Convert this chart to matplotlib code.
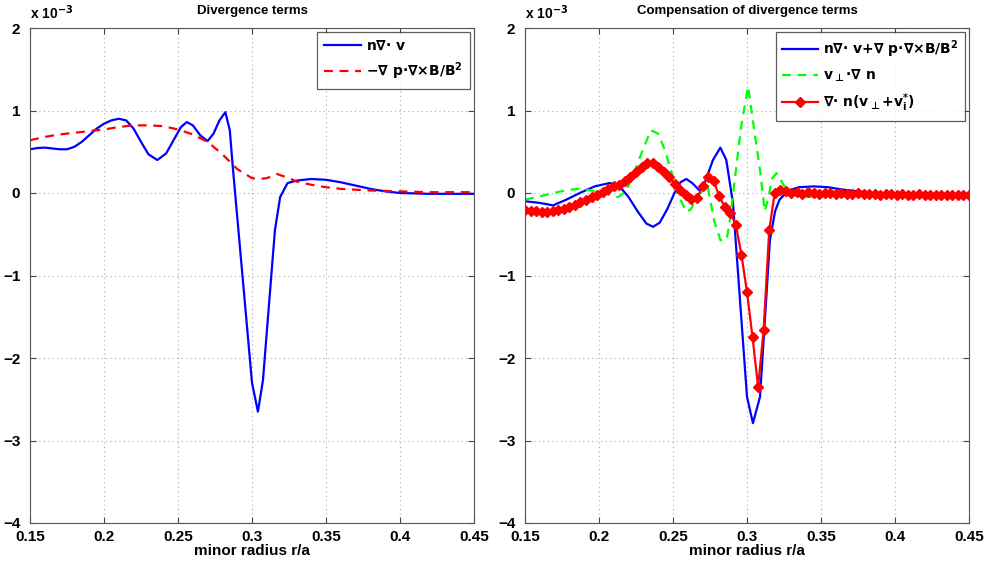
import numpy as np
import matplotlib
matplotlib.use('Agg')
import matplotlib.pyplot as plt

plt.rcParams['font.family'] = ['Liberation Sans', 'DejaVu Sans']
plt.rcParams['font.weight'] = 'bold'
plt.rcParams['mathtext.fontset'] = 'custom'
plt.rcParams['mathtext.rm'] = 'DejaVu Sans:bold'
plt.rcParams['mathtext.it'] = 'DejaVu Sans:bold'
plt.rcParams['mathtext.bf'] = 'DejaVu Sans:bold'
plt.rcParams['mathtext.sf'] = 'DejaVu Sans'
plt.rcParams['axes.unicode_minus'] = True

# 数值单位为 1e-3
# 左图: n∇·v
left_div_x = [0.150, 0.155, 0.160, 0.165, 0.170, 0.175, 0.180, 0.185, 0.190, 0.195,
              0.200, 0.205, 0.210, 0.215, 0.220, 0.225, 0.230, 0.236, 0.242, 0.247,
              0.252, 0.256, 0.260, 0.265, 0.270, 0.274, 0.278, 0.282, 0.285, 0.287,
              0.300, 0.304, 0.3074, 0.3155, 0.319, 0.324, 0.330, 0.340, 0.350, 0.360,
              0.370, 0.380, 0.390, 0.400, 0.420, 0.450]
left_div_y = [0.53, 0.545, 0.55, 0.54, 0.53, 0.53, 0.56, 0.62, 0.70, 0.78,
              0.84, 0.88, 0.90, 0.88, 0.78, 0.62, 0.47, 0.40, 0.48, 0.64,
              0.80, 0.86, 0.82, 0.70, 0.63, 0.72, 0.88, 0.98, 0.76, 0.32,
              -2.30, -2.65, -2.27, -0.45, -0.05, 0.12, 0.15, 0.17, 0.16, 0.13,
              0.09, 0.05, 0.02, 0.00, -0.01, -0.01]

# 左图: -∇p·∇×B/B^2
left_curl_x = [0.15, 0.16, 0.17, 0.18, 0.19, 0.20, 0.21, 0.22, 0.23, 0.24,
               0.25, 0.26, 0.27, 0.28, 0.29, 0.30, 0.305, 0.31, 0.317, 0.325,
               0.33, 0.34, 0.35, 0.36, 0.38, 0.40, 0.42, 0.45]
left_curl_y = [0.64, 0.68, 0.71, 0.73, 0.75, 0.77, 0.80, 0.82, 0.82, 0.81,
               0.77, 0.71, 0.62, 0.47, 0.29, 0.18, 0.17, 0.18, 0.23, 0.18,
               0.14, 0.10, 0.07, 0.05, 0.03, 0.02, 0.01, 0.01]

# 右图: n∇·v + ∇p·∇×B/B^2
right_sum_x = [0.150, 0.160, 0.169, 0.178, 0.187, 0.197, 0.207, 0.213, 0.220, 0.226,
               0.232, 0.2365, 0.241, 0.246, 0.251, 0.255, 0.259, 0.263, 0.268, 0.272,
               0.277, 0.282, 0.286, 0.2905, 0.300, 0.304, 0.3088, 0.3155, 0.319, 0.322,
               0.328, 0.335, 0.345, 0.355, 0.365, 0.375, 0.385, 0.400, 0.450]
right_sum_y = [-0.10, -0.12, -0.15, -0.08, 0.00, 0.08, 0.12, 0.10, -0.05, -0.22,
               -0.37, -0.41, -0.36, -0.20, 0.00, 0.13, 0.17, 0.12, 0.03, 0.15,
               0.40, 0.55, 0.40, -0.12, -2.47, -2.79, -2.47, -0.57, -0.22, -0.08,
               0.03, 0.07, 0.08, 0.07, 0.04, 0.02, 0.00, -0.01, -0.01]

# 右图: v⊥·∇n
right_grad_x = [0.150, 0.160, 0.169, 0.180, 0.187, 0.195, 0.203, 0.210, 0.213, 0.218,
                0.222, 0.228, 0.235, 0.240, 0.2445, 0.249, 0.253, 0.259, 0.262, 0.267,
                0.2736, 0.278, 0.282, 0.286, 0.288, 0.292, 0.296, 0.3007, 0.305, 0.309,
                0.312, 0.3145, 0.317, 0.320, 0.324, 0.328, 0.335, 0.345, 0.360, 0.380,
                0.400, 0.450]
right_grad_y = [-0.08, -0.04, 0.00, 0.04, 0.05, 0.03, 0.00, -0.04, -0.05, 0.02,
                0.16, 0.45, 0.76, 0.72, 0.52, 0.25, 0.00, -0.23, -0.20, -0.02,
                0.06, -0.35, -0.57, -0.57, -0.40, 0.20, 0.80, 1.29, 0.75, 0.25,
                -0.22, -0.05, 0.18, 0.24, 0.12, 0.00, -0.04, -0.05, -0.04, -0.03,
                -0.02, -0.02]

# 右图: ∇·n(v⊥+v*i)，等间距采样点
right_total_y = [-0.21, -0.22, -0.22, -0.23, -0.23, -0.22, -0.21, -0.19, -0.17, -0.14,
                 -0.11, -0.08, -0.05, -0.02, 0.01, 0.05, 0.08, 0.10, 0.14, 0.19,
                 0.25, 0.31, 0.36, 0.36, 0.32, 0.26, 0.19, 0.11, 0.04, -0.03,
                 -0.07, -0.06, 0.08, 0.20, 0.15, -0.04, -0.17, -0.24, -0.39, -0.75,
                 -1.20, -1.75, -2.35, -1.66, -0.45, 0.00, 0.04, 0.02, 0.00, 0.01,
                 -0.01, 0.01, 0.00, -0.01, 0.00, 0.00, -0.01, 0.00, -0.01, -0.01,
                 0.00, -0.01, -0.01, -0.01, -0.02, -0.01, -0.01, -0.02, -0.01, -0.02,
                 -0.02, -0.01, -0.02, -0.02, -0.02, -0.02, -0.02, -0.02, -0.02, -0.02,
                 -0.02]
right_total_x = np.linspace(0.15, 0.45, len(right_total_y))

x_ticks = [0.15, 0.2, 0.25, 0.3, 0.35, 0.4, 0.45]
x_tick_labels = ['0.15', '0.2', '0.25', '0.3', '0.35', '0.4', '0.45']
y_ticks = [-4, -3, -2, -1, 0, 1, 2]

W, H = 987, 567
fig = plt.figure(figsize=(W / 100, H / 100), dpi=100)
ax1 = fig.add_axes([30 / W, 1 - 523 / H, 444 / W, 495 / H])
ax2 = fig.add_axes([525 / W, 1 - 523 / H, 444 / W, 495 / H])


def style_axes(ax, title):
    ax.set_xlim(0.15, 0.45)
    ax.set_ylim(-4, 2)
    ax.set_xticks(x_ticks)
    ax.set_xticklabels(x_tick_labels)
    ax.set_yticks(y_ticks)
    ax.tick_params(direction='in', length=4, width=0.8, top=True, right=True,
                   labelsize=11, colors='#444444', labelcolor='black')
    ax.tick_params(axis='x', pad=5)
    ax.tick_params(axis='y', pad=7)
    for lab in ax.get_xticklabels() + ax.get_yticklabels():
        lab.set_fontweight('bold')
    for s in ax.spines.values():
        s.set_color('#555555')
        s.set_linewidth(0.8)
    ax.grid(True, linestyle=(0, (1, 3)), color='#aaaaaa', linewidth=0.8)
    ax.set_axisbelow(True)
    ax.set_xlabel('minor radius r/a', fontsize=11, fontweight='bold', labelpad=0)
    ax.set_title(title, fontsize=9.5, fontweight='bold', pad=10)
    ax.text(0.0, 1.012, r'x 10$^{-3}$', transform=ax.transAxes, fontsize=10,
            fontweight='bold', ha='left', va='bottom')


def style_legend(leg):
    leg.get_frame().set_edgecolor('#333333')
    leg.get_frame().set_linewidth(0.9)


leg_font = {'family': 'DejaVu Sans', 'weight': 'bold', 'size': 10}

ax1.plot(left_div_x, left_div_y, color='#0000ff', linewidth=1.6,
         label=r'n$\nabla$· v')
ax1.plot(left_curl_x, left_curl_y, color='#ff0000', linewidth=1.6,
         linestyle=(0, (4, 3)), label=r'−$\nabla$ p·$\nabla$×B/B$^2$')
style_axes(ax1, 'Divergence terms')
leg1 = ax1.legend(loc='upper right', prop=leg_font, frameon=True, fancybox=False,
                  borderaxespad=0.3, handlelength=2.7, handletextpad=0.35,
                  labelspacing=0.5, borderpad=0.5)
style_legend(leg1)

ax2.plot(right_sum_x, right_sum_y, color='#0000ff', linewidth=1.6,
         label=r'n$\nabla$· v+$\nabla$ p·$\nabla$×B/B$^2$')
ax2.plot(right_grad_x, right_grad_y, color='#00ff00', linewidth=1.6,
         linestyle=(0, (4, 3)), label=r'v$_{\mathsf{\bot}}$·$\nabla$ n')
ax2.plot(right_total_x, right_total_y, color='#ff0000', linewidth=1.6,
         marker='D', markersize=5.5,
         label=r'$\nabla$· n(v$_{\mathsf{\bot}}$+v$^{*}_{i}$)')
style_axes(ax2, 'Compensation of divergence terms')
leg2 = ax2.legend(loc='upper right', prop=leg_font, frameon=True, fancybox=False,
                  borderaxespad=0.3, handlelength=2.6, handletextpad=0.35,
                  labelspacing=0.55, borderpad=0.45)
style_legend(leg2)

fig.savefig('out.png', dpi=100)
plt.close(fig)
